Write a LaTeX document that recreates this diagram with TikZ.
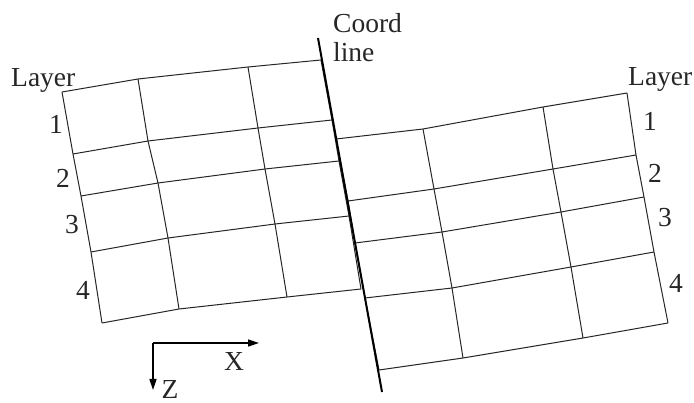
\documentclass[tikz,border=0pt]{standalone}
\usepackage{fontspec}
\setmainfont{Liberation Serif}
\usetikzlibrary{arrows.meta}

\tikzset{
  gridline/.style={black!85, line width=1pt, line join=round},
  coordline/.style={black, line width=2pt},
  axisline/.style={black, line width=1.6pt, -{Triangle[length=11pt,width=7pt]}},
  lbl/.style={font=\fontsize{27.5}{30}\selectfont, inner sep=0pt, text=black!85},
}

\begin{document}
\begin{tikzpicture}[x=1pt,y=-1pt]
    \useasboundingbox (0,0) rectangle (694,403);

    % grid points, left block (rows top to bottom, columns left to right)
    \foreach \row [count=\r from 0] in {
        {62/92,138/79,248/67,321/60},
        {73/154,148/141,258/128,332/120},
        {81/196,158/183,265/169,339/161},
        {91/252,168/238,275/224,349/216},
        {102/323,179/309,287/297,361/289}} {
        \foreach \px/\py [count=\c from 0] in \row
            \coordinate (L\r\c) at (\px,\py);
    }

    % grid points, right block
    \foreach \row [count=\r from 0] in {
        {336/139,423/129,543/107,627/93},
        {348/201,434/189,553/169,636/155},
        {355/243,442/232,561/212,644/197},
        {365/298,452/288,571/267,654/252},
        {379/370,463/358,583/338,668/323}} {
        \foreach \px/\py [count=\c from 0] in \row
            \coordinate (R\r\c) at (\px,\py);
    }

    % layer lines and columns
    \foreach \b in {L,R} {
        \foreach \r in {0,...,4}
            \draw[gridline] (\b\r0) -- (\b\r1) -- (\b\r2) -- (\b\r3);
        \foreach \c in {0,...,3}
            \draw[gridline] (\b0\c) -- (\b1\c) -- (\b2\c) -- (\b3\c) -- (\b4\c);
    }

    % coordinate line
    \coordinate (ctop) at (318,38);
    \coordinate (cbot) at (382,392);
    \draw[coordline] (ctop) -- (cbot);
    \node[lbl, anchor=base west] (coord) at (333,33) {Coord};
    \node[lbl, anchor=base west] (line) at (333,62) {line};

    % layer labels
    \node[lbl, anchor=base west] (layerL) at (11,87) {Layer};
    \node[lbl, anchor=base west] (layerR) at (628,86) {Layer};
    \foreach \n/\px/\py in {1/56/124,2/63/178,3/72/225,4/83/290}
        \node[lbl] (numL\n) at (\px,\py) {\n};
    \foreach \n/\px/\py in {1/650/121,2/655/173,3/665/218,4/676/283}
        \node[lbl] (numR\n) at (\px,\py) {\n};

    % axes
    \coordinate (orig) at (153,343);
    \coordinate (xend) at (259,343);
    \coordinate (zend) at (153,390);
    \draw[axisline] (orig) -- (xend);
    \draw[axisline] (orig) -- (zend);
    \node[lbl] (xlab) at (234,361) {X};
    \node[lbl] (zlab) at (170,389) {Z};

\end{tikzpicture}
\end{document}
